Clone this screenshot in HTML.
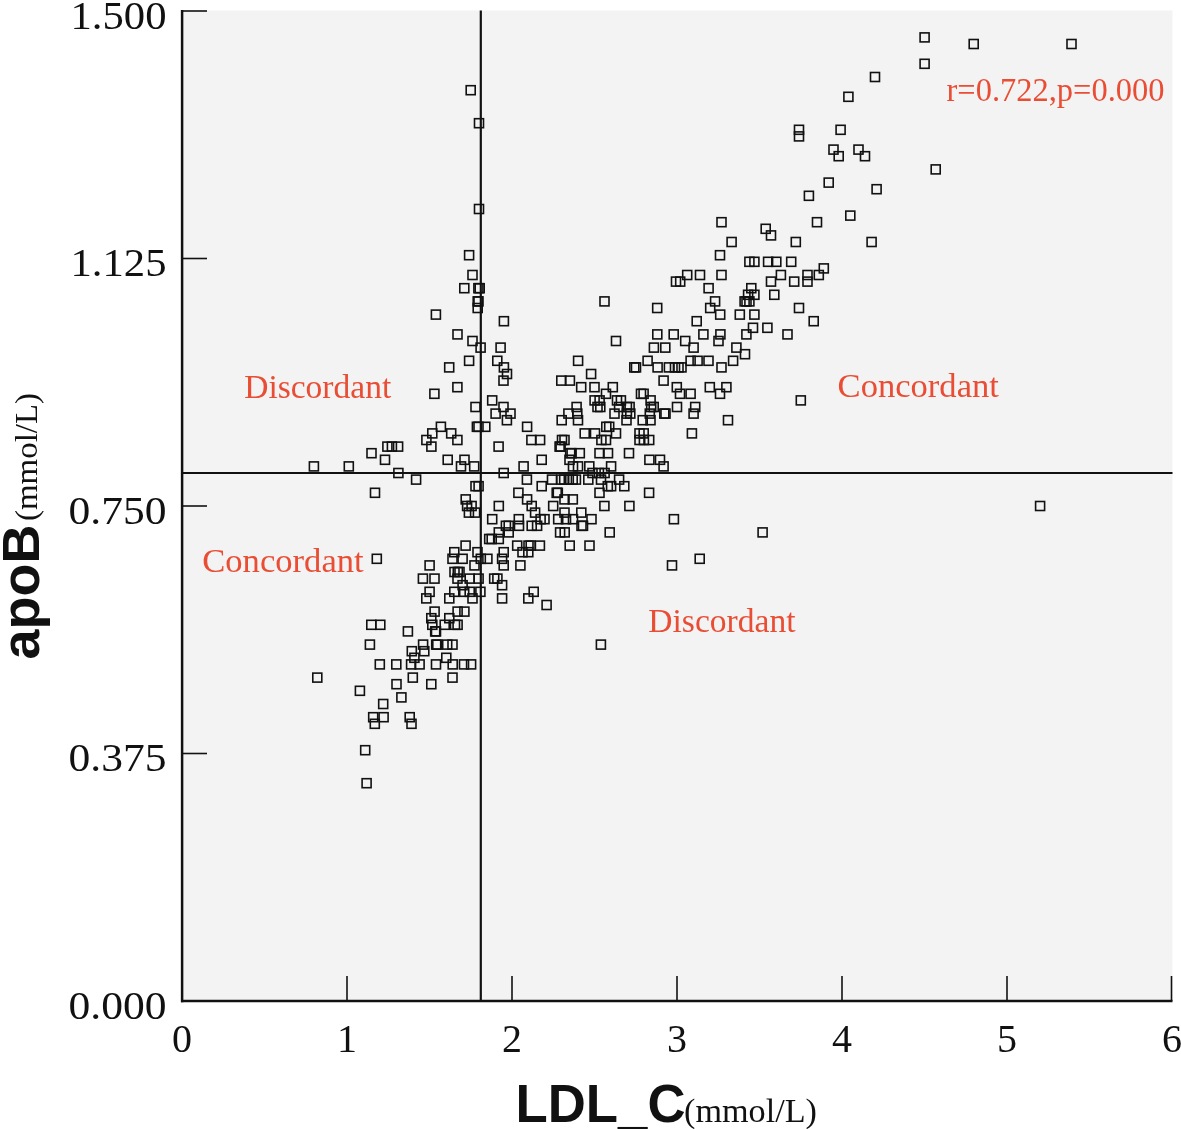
<!DOCTYPE html>
<html lang="en"><head><meta charset="utf-8"><title>apoB vs LDL_C scatter</title>
<style>html,body{margin:0;padding:0;background:#fff}svg{display:block}.tk{font-family:"Liberation Serif","Times New Roman",serif;font-size:40px;fill:#111}.rd{font-family:"Liberation Serif","Times New Roman",serif;font-size:33px;fill:#e94e35}.bt{font-family:"Liberation Sans",Arial,sans-serif;font-weight:bold;fill:#111}.un{font-family:"Liberation Serif","Times New Roman",serif;fill:#111}.sq rect{fill:none;stroke:#111;stroke-width:1.6}</style></head><body>
<svg width="1181" height="1129" viewBox="0 0 1181 1129">
<rect x="0" y="0" width="1181" height="1129" fill="#fff"/>
<rect x="182" y="10.5" width="990.5" height="990.5" fill="#f4f3f3"/>
<g stroke="#111" fill="none">
<line x1="182.1" y1="10" x2="182.1" y2="1002.3" stroke-width="2.5"/>
<line x1="181" y1="1001" x2="1172.5" y2="1001" stroke-width="2.3"/>
<line x1="480.8" y1="10.5" x2="480.8" y2="1001" stroke-width="2.2"/>
<line x1="182" y1="473" x2="1172.5" y2="473" stroke-width="2.2"/>
<line x1="182" y1="11.0" x2="207" y2="11.0" stroke-width="1.6"/>
<line x1="182" y1="258.5" x2="207" y2="258.5" stroke-width="1.6"/>
<line x1="182" y1="506.0" x2="207" y2="506.0" stroke-width="1.6"/>
<line x1="182" y1="753.5" x2="207" y2="753.5" stroke-width="1.6"/>
<line x1="347.0" y1="976" x2="347.0" y2="1001" stroke-width="1.6"/>
<line x1="512.0" y1="976" x2="512.0" y2="1001" stroke-width="1.6"/>
<line x1="677.0" y1="976" x2="677.0" y2="1001" stroke-width="1.6"/>
<line x1="842.0" y1="976" x2="842.0" y2="1001" stroke-width="1.6"/>
<line x1="1007.0" y1="976" x2="1007.0" y2="1001" stroke-width="1.6"/>
<line x1="1171.5" y1="976" x2="1171.5" y2="1001" stroke-width="1.6"/>
</g>
<text class="tk" x="166.5" y="28.5" text-anchor="end" textLength="96" lengthAdjust="spacingAndGlyphs">1.500</text>
<text class="tk" x="166.5" y="276.0" text-anchor="end" textLength="96" lengthAdjust="spacingAndGlyphs">1.125</text>
<text class="tk" x="166.5" y="523.5" text-anchor="end" textLength="98" lengthAdjust="spacingAndGlyphs">0.750</text>
<text class="tk" x="166.5" y="771.0" text-anchor="end" textLength="98" lengthAdjust="spacingAndGlyphs">0.375</text>
<text class="tk" x="166.5" y="1018.5" text-anchor="end" textLength="98" lengthAdjust="spacingAndGlyphs">0.000</text>
<text class="tk" x="182.0" y="1052" text-anchor="middle">0</text>
<text class="tk" x="347.0" y="1052" text-anchor="middle">1</text>
<text class="tk" x="512.0" y="1052" text-anchor="middle">2</text>
<text class="tk" x="677.0" y="1052" text-anchor="middle">3</text>
<text class="tk" x="842.0" y="1052" text-anchor="middle">4</text>
<text class="tk" x="1007.0" y="1052" text-anchor="middle">5</text>
<text class="tk" x="1172.0" y="1052" text-anchor="middle">6</text>
<text class="bt" x="515.5" y="1121.5" font-size="53" textLength="170" lengthAdjust="spacingAndGlyphs">LDL_C</text>
<text class="un" x="684" y="1122" font-size="33" textLength="133" lengthAdjust="spacingAndGlyphs">(mmol/L)</text>
<g transform="translate(38.5,659.5) rotate(-90)">
<text class="bt" x="0" y="0" font-size="51" textLength="135" lengthAdjust="spacingAndGlyphs">apoB</text>
<text class="un" x="138.5" y="-1.5" font-size="32" textLength="128" lengthAdjust="spacingAndGlyphs">(mmol/L)</text>
</g>
<text class="rd" x="946.5" y="101" font-size="30" textLength="218" lengthAdjust="spacingAndGlyphs">r=0.722,p=0.000</text>
<text class="rd" x="244.2" y="397.5" textLength="147" lengthAdjust="spacingAndGlyphs">Discordant</text>
<text class="rd" x="837.6" y="397.2" textLength="161.3" lengthAdjust="spacingAndGlyphs">Concordant</text>
<text class="rd" x="202.2" y="572" textLength="161.5" lengthAdjust="spacingAndGlyphs">Concordant</text>
<text class="rd" x="648.3" y="631.5" textLength="147.3" lengthAdjust="spacingAndGlyphs">Discordant</text>
<g class="sq">
<rect x="920.1" y="32.9" width="9" height="9"/>
<rect x="969.2" y="39.5" width="9" height="9"/>
<rect x="1067.0" y="39.5" width="9" height="9"/>
<rect x="920.1" y="59.3" width="9" height="9"/>
<rect x="870.5" y="72.5" width="9" height="9"/>
<rect x="466.2" y="85.7" width="9" height="9"/>
<rect x="843.9" y="92.3" width="9" height="9"/>
<rect x="474.5" y="118.7" width="9" height="9"/>
<rect x="794.5" y="125.3" width="9" height="9"/>
<rect x="836.1" y="125.3" width="9" height="9"/>
<rect x="794.5" y="131.9" width="9" height="9"/>
<rect x="829.0" y="145.1" width="9" height="9"/>
<rect x="854.0" y="145.1" width="9" height="9"/>
<rect x="834.2" y="151.7" width="9" height="9"/>
<rect x="860.5" y="151.7" width="9" height="9"/>
<rect x="931.2" y="164.9" width="9" height="9"/>
<rect x="824.2" y="178.1" width="9" height="9"/>
<rect x="872.1" y="184.7" width="9" height="9"/>
<rect x="804.4" y="191.3" width="9" height="9"/>
<rect x="474.5" y="204.5" width="9" height="9"/>
<rect x="845.8" y="211.1" width="9" height="9"/>
<rect x="717.0" y="217.7" width="9" height="9"/>
<rect x="812.5" y="217.7" width="9" height="9"/>
<rect x="761.2" y="224.3" width="9" height="9"/>
<rect x="766.5" y="230.9" width="9" height="9"/>
<rect x="727.1" y="237.5" width="9" height="9"/>
<rect x="791.3" y="237.5" width="9" height="9"/>
<rect x="867.1" y="237.5" width="9" height="9"/>
<rect x="464.6" y="250.7" width="9" height="9"/>
<rect x="715.5" y="250.7" width="9" height="9"/>
<rect x="744.9" y="257.3" width="9" height="9"/>
<rect x="749.9" y="257.3" width="9" height="9"/>
<rect x="763.6" y="257.3" width="9" height="9"/>
<rect x="771.8" y="257.3" width="9" height="9"/>
<rect x="786.7" y="257.3" width="9" height="9"/>
<rect x="819.3" y="263.9" width="9" height="9"/>
<rect x="468.0" y="270.5" width="9" height="9"/>
<rect x="682.7" y="270.5" width="9" height="9"/>
<rect x="695.5" y="270.5" width="9" height="9"/>
<rect x="717.0" y="270.5" width="9" height="9"/>
<rect x="776.4" y="270.5" width="9" height="9"/>
<rect x="803.0" y="270.5" width="9" height="9"/>
<rect x="814.3" y="270.5" width="9" height="9"/>
<rect x="671.5" y="277.1" width="9" height="9"/>
<rect x="675.7" y="277.1" width="9" height="9"/>
<rect x="766.5" y="277.1" width="9" height="9"/>
<rect x="789.7" y="277.1" width="9" height="9"/>
<rect x="803.0" y="277.1" width="9" height="9"/>
<rect x="459.8" y="283.7" width="9" height="9"/>
<rect x="473.9" y="283.7" width="9" height="9"/>
<rect x="475.2" y="283.7" width="9" height="9"/>
<rect x="704.1" y="283.7" width="9" height="9"/>
<rect x="746.8" y="283.7" width="9" height="9"/>
<rect x="743.6" y="290.3" width="9" height="9"/>
<rect x="749.9" y="290.3" width="9" height="9"/>
<rect x="769.8" y="290.3" width="9" height="9"/>
<rect x="473.2" y="296.9" width="9" height="9"/>
<rect x="474.0" y="296.9" width="9" height="9"/>
<rect x="600.0" y="296.9" width="9" height="9"/>
<rect x="710.6" y="296.9" width="9" height="9"/>
<rect x="740.1" y="296.9" width="9" height="9"/>
<rect x="742.0" y="296.9" width="9" height="9"/>
<rect x="744.9" y="296.9" width="9" height="9"/>
<rect x="473.2" y="303.5" width="9" height="9"/>
<rect x="652.7" y="303.5" width="9" height="9"/>
<rect x="705.7" y="303.5" width="9" height="9"/>
<rect x="794.5" y="303.5" width="9" height="9"/>
<rect x="431.4" y="310.1" width="9" height="9"/>
<rect x="715.7" y="310.1" width="9" height="9"/>
<rect x="735.3" y="310.1" width="9" height="9"/>
<rect x="749.9" y="310.1" width="9" height="9"/>
<rect x="499.4" y="316.7" width="9" height="9"/>
<rect x="692.2" y="316.7" width="9" height="9"/>
<rect x="809.2" y="316.7" width="9" height="9"/>
<rect x="748.5" y="323.3" width="9" height="9"/>
<rect x="762.9" y="323.3" width="9" height="9"/>
<rect x="453.0" y="329.9" width="9" height="9"/>
<rect x="652.8" y="329.9" width="9" height="9"/>
<rect x="669.2" y="329.9" width="9" height="9"/>
<rect x="698.9" y="329.9" width="9" height="9"/>
<rect x="715.9" y="329.9" width="9" height="9"/>
<rect x="741.9" y="329.9" width="9" height="9"/>
<rect x="783.0" y="329.9" width="9" height="9"/>
<rect x="468.0" y="336.5" width="9" height="9"/>
<rect x="611.5" y="336.5" width="9" height="9"/>
<rect x="680.7" y="336.5" width="9" height="9"/>
<rect x="714.0" y="336.5" width="9" height="9"/>
<rect x="476.1" y="343.1" width="9" height="9"/>
<rect x="496.1" y="343.1" width="9" height="9"/>
<rect x="649.4" y="343.1" width="9" height="9"/>
<rect x="660.8" y="343.1" width="9" height="9"/>
<rect x="689.1" y="343.1" width="9" height="9"/>
<rect x="731.9" y="343.1" width="9" height="9"/>
<rect x="740.5" y="349.7" width="9" height="9"/>
<rect x="464.6" y="356.3" width="9" height="9"/>
<rect x="492.8" y="356.3" width="9" height="9"/>
<rect x="573.6" y="356.3" width="9" height="9"/>
<rect x="643.1" y="356.3" width="9" height="9"/>
<rect x="686.1" y="356.3" width="9" height="9"/>
<rect x="693.1" y="356.3" width="9" height="9"/>
<rect x="704.0" y="356.3" width="9" height="9"/>
<rect x="728.6" y="356.3" width="9" height="9"/>
<rect x="444.7" y="362.9" width="9" height="9"/>
<rect x="499.4" y="362.9" width="9" height="9"/>
<rect x="629.8" y="362.9" width="9" height="9"/>
<rect x="631.5" y="362.9" width="9" height="9"/>
<rect x="653.1" y="362.9" width="9" height="9"/>
<rect x="664.4" y="362.9" width="9" height="9"/>
<rect x="670.5" y="362.9" width="9" height="9"/>
<rect x="674.0" y="362.9" width="9" height="9"/>
<rect x="677.0" y="362.9" width="9" height="9"/>
<rect x="717.0" y="362.9" width="9" height="9"/>
<rect x="502.5" y="369.5" width="9" height="9"/>
<rect x="586.6" y="369.5" width="9" height="9"/>
<rect x="499.0" y="376.1" width="9" height="9"/>
<rect x="556.8" y="376.1" width="9" height="9"/>
<rect x="565.4" y="376.1" width="9" height="9"/>
<rect x="659.1" y="376.1" width="9" height="9"/>
<rect x="452.9" y="382.7" width="9" height="9"/>
<rect x="576.7" y="382.7" width="9" height="9"/>
<rect x="590.0" y="382.7" width="9" height="9"/>
<rect x="608.3" y="382.7" width="9" height="9"/>
<rect x="672.3" y="382.7" width="9" height="9"/>
<rect x="705.3" y="382.7" width="9" height="9"/>
<rect x="721.9" y="382.7" width="9" height="9"/>
<rect x="429.9" y="389.3" width="9" height="9"/>
<rect x="601.5" y="389.3" width="9" height="9"/>
<rect x="636.5" y="389.3" width="9" height="9"/>
<rect x="639.1" y="389.3" width="9" height="9"/>
<rect x="675.5" y="389.3" width="9" height="9"/>
<rect x="686.1" y="389.3" width="9" height="9"/>
<rect x="715.5" y="389.3" width="9" height="9"/>
<rect x="487.7" y="395.9" width="9" height="9"/>
<rect x="590.1" y="395.9" width="9" height="9"/>
<rect x="595.1" y="395.9" width="9" height="9"/>
<rect x="612.5" y="395.9" width="9" height="9"/>
<rect x="616.4" y="395.9" width="9" height="9"/>
<rect x="646.1" y="395.9" width="9" height="9"/>
<rect x="796.3" y="395.9" width="9" height="9"/>
<rect x="471.0" y="402.5" width="9" height="9"/>
<rect x="499.0" y="402.5" width="9" height="9"/>
<rect x="572.1" y="402.5" width="9" height="9"/>
<rect x="593.0" y="402.5" width="9" height="9"/>
<rect x="595.8" y="402.5" width="9" height="9"/>
<rect x="614.6" y="402.5" width="9" height="9"/>
<rect x="622.4" y="402.5" width="9" height="9"/>
<rect x="625.1" y="402.5" width="9" height="9"/>
<rect x="646.7" y="402.5" width="9" height="9"/>
<rect x="649.2" y="402.5" width="9" height="9"/>
<rect x="672.5" y="402.5" width="9" height="9"/>
<rect x="690.7" y="402.5" width="9" height="9"/>
<rect x="491.1" y="409.1" width="9" height="9"/>
<rect x="506.0" y="409.1" width="9" height="9"/>
<rect x="563.9" y="409.1" width="9" height="9"/>
<rect x="572.8" y="409.1" width="9" height="9"/>
<rect x="610.0" y="409.1" width="9" height="9"/>
<rect x="622.4" y="409.1" width="9" height="9"/>
<rect x="625.8" y="409.1" width="9" height="9"/>
<rect x="645.3" y="409.1" width="9" height="9"/>
<rect x="659.8" y="409.1" width="9" height="9"/>
<rect x="661.0" y="409.1" width="9" height="9"/>
<rect x="689.1" y="409.1" width="9" height="9"/>
<rect x="502.4" y="415.7" width="9" height="9"/>
<rect x="557.2" y="415.7" width="9" height="9"/>
<rect x="573.5" y="415.7" width="9" height="9"/>
<rect x="622.0" y="415.7" width="9" height="9"/>
<rect x="638.2" y="415.7" width="9" height="9"/>
<rect x="646.0" y="415.7" width="9" height="9"/>
<rect x="723.5" y="415.7" width="9" height="9"/>
<rect x="436.4" y="422.3" width="9" height="9"/>
<rect x="472.4" y="422.3" width="9" height="9"/>
<rect x="474.0" y="422.3" width="9" height="9"/>
<rect x="480.8" y="422.3" width="9" height="9"/>
<rect x="522.6" y="422.3" width="9" height="9"/>
<rect x="601.8" y="422.3" width="9" height="9"/>
<rect x="604.7" y="422.3" width="9" height="9"/>
<rect x="427.8" y="428.9" width="9" height="9"/>
<rect x="446.7" y="428.9" width="9" height="9"/>
<rect x="580.2" y="428.9" width="9" height="9"/>
<rect x="590.5" y="428.9" width="9" height="9"/>
<rect x="611.5" y="428.9" width="9" height="9"/>
<rect x="635.0" y="428.9" width="9" height="9"/>
<rect x="639.2" y="428.9" width="9" height="9"/>
<rect x="687.4" y="428.9" width="9" height="9"/>
<rect x="421.9" y="435.5" width="9" height="9"/>
<rect x="452.9" y="435.5" width="9" height="9"/>
<rect x="526.9" y="435.5" width="9" height="9"/>
<rect x="535.6" y="435.5" width="9" height="9"/>
<rect x="557.5" y="435.5" width="9" height="9"/>
<rect x="560.0" y="435.5" width="9" height="9"/>
<rect x="596.9" y="435.5" width="9" height="9"/>
<rect x="601.5" y="435.5" width="9" height="9"/>
<rect x="635.0" y="435.5" width="9" height="9"/>
<rect x="639.4" y="435.5" width="9" height="9"/>
<rect x="644.7" y="435.5" width="9" height="9"/>
<rect x="382.9" y="442.1" width="9" height="9"/>
<rect x="387.4" y="442.1" width="9" height="9"/>
<rect x="393.6" y="442.1" width="9" height="9"/>
<rect x="426.9" y="442.1" width="9" height="9"/>
<rect x="494.1" y="442.1" width="9" height="9"/>
<rect x="555.1" y="442.1" width="9" height="9"/>
<rect x="556.1" y="442.1" width="9" height="9"/>
<rect x="367.0" y="448.7" width="9" height="9"/>
<rect x="565.7" y="448.7" width="9" height="9"/>
<rect x="567.1" y="448.7" width="9" height="9"/>
<rect x="575.3" y="448.7" width="9" height="9"/>
<rect x="595.0" y="448.7" width="9" height="9"/>
<rect x="603.5" y="448.7" width="9" height="9"/>
<rect x="624.5" y="448.7" width="9" height="9"/>
<rect x="380.5" y="455.3" width="9" height="9"/>
<rect x="443.2" y="455.3" width="9" height="9"/>
<rect x="460.0" y="455.3" width="9" height="9"/>
<rect x="537.2" y="455.3" width="9" height="9"/>
<rect x="565.0" y="455.3" width="9" height="9"/>
<rect x="644.9" y="455.3" width="9" height="9"/>
<rect x="655.5" y="455.3" width="9" height="9"/>
<rect x="309.4" y="461.9" width="9" height="9"/>
<rect x="344.3" y="461.9" width="9" height="9"/>
<rect x="456.5" y="461.9" width="9" height="9"/>
<rect x="469.7" y="461.9" width="9" height="9"/>
<rect x="519.1" y="461.9" width="9" height="9"/>
<rect x="568.5" y="461.9" width="9" height="9"/>
<rect x="573.5" y="461.9" width="9" height="9"/>
<rect x="584.8" y="461.9" width="9" height="9"/>
<rect x="606.6" y="461.9" width="9" height="9"/>
<rect x="659.1" y="461.9" width="9" height="9"/>
<rect x="393.9" y="468.5" width="9" height="9"/>
<rect x="499.2" y="468.5" width="9" height="9"/>
<rect x="588.0" y="468.5" width="9" height="9"/>
<rect x="594.4" y="468.5" width="9" height="9"/>
<rect x="600.1" y="468.5" width="9" height="9"/>
<rect x="411.6" y="475.1" width="9" height="9"/>
<rect x="522.4" y="475.1" width="9" height="9"/>
<rect x="547.5" y="475.1" width="9" height="9"/>
<rect x="556.8" y="475.1" width="9" height="9"/>
<rect x="559.7" y="475.1" width="9" height="9"/>
<rect x="564.3" y="475.1" width="9" height="9"/>
<rect x="568.2" y="475.1" width="9" height="9"/>
<rect x="571.4" y="475.1" width="9" height="9"/>
<rect x="583.8" y="475.1" width="9" height="9"/>
<rect x="596.5" y="475.1" width="9" height="9"/>
<rect x="614.6" y="475.1" width="9" height="9"/>
<rect x="471.0" y="481.7" width="9" height="9"/>
<rect x="474.1" y="481.7" width="9" height="9"/>
<rect x="537.2" y="481.7" width="9" height="9"/>
<rect x="603.3" y="481.7" width="9" height="9"/>
<rect x="606.6" y="481.7" width="9" height="9"/>
<rect x="619.8" y="481.7" width="9" height="9"/>
<rect x="370.5" y="488.3" width="9" height="9"/>
<rect x="513.9" y="488.3" width="9" height="9"/>
<rect x="552.2" y="488.3" width="9" height="9"/>
<rect x="553.3" y="488.3" width="9" height="9"/>
<rect x="595.0" y="488.3" width="9" height="9"/>
<rect x="644.6" y="488.3" width="9" height="9"/>
<rect x="461.2" y="494.9" width="9" height="9"/>
<rect x="522.6" y="494.9" width="9" height="9"/>
<rect x="560.0" y="494.9" width="9" height="9"/>
<rect x="568.3" y="494.9" width="9" height="9"/>
<rect x="462.6" y="501.5" width="9" height="9"/>
<rect x="467.1" y="501.5" width="9" height="9"/>
<rect x="494.3" y="501.5" width="9" height="9"/>
<rect x="527.2" y="501.5" width="9" height="9"/>
<rect x="548.7" y="501.5" width="9" height="9"/>
<rect x="599.9" y="501.5" width="9" height="9"/>
<rect x="624.9" y="501.5" width="9" height="9"/>
<rect x="1035.6" y="501.5" width="9" height="9"/>
<rect x="464.4" y="508.1" width="9" height="9"/>
<rect x="470.6" y="508.1" width="9" height="9"/>
<rect x="530.6" y="508.1" width="9" height="9"/>
<rect x="560.0" y="508.1" width="9" height="9"/>
<rect x="576.8" y="508.1" width="9" height="9"/>
<rect x="487.7" y="514.7" width="9" height="9"/>
<rect x="514.3" y="514.7" width="9" height="9"/>
<rect x="536.1" y="514.7" width="9" height="9"/>
<rect x="540.0" y="514.7" width="9" height="9"/>
<rect x="553.7" y="514.7" width="9" height="9"/>
<rect x="561.5" y="514.7" width="9" height="9"/>
<rect x="568.5" y="514.7" width="9" height="9"/>
<rect x="587.0" y="514.7" width="9" height="9"/>
<rect x="669.4" y="514.7" width="9" height="9"/>
<rect x="501.4" y="521.3" width="9" height="9"/>
<rect x="504.2" y="521.3" width="9" height="9"/>
<rect x="514.5" y="521.3" width="9" height="9"/>
<rect x="527.2" y="521.3" width="9" height="9"/>
<rect x="532.6" y="521.3" width="9" height="9"/>
<rect x="577.0" y="521.3" width="9" height="9"/>
<rect x="578.5" y="521.3" width="9" height="9"/>
<rect x="494.3" y="527.9" width="9" height="9"/>
<rect x="504.2" y="527.9" width="9" height="9"/>
<rect x="555.6" y="527.9" width="9" height="9"/>
<rect x="560.2" y="527.9" width="9" height="9"/>
<rect x="605.2" y="527.9" width="9" height="9"/>
<rect x="758.1" y="527.9" width="9" height="9"/>
<rect x="484.7" y="534.5" width="9" height="9"/>
<rect x="487.2" y="534.5" width="9" height="9"/>
<rect x="494.3" y="534.5" width="9" height="9"/>
<rect x="461.1" y="541.1" width="9" height="9"/>
<rect x="512.7" y="541.1" width="9" height="9"/>
<rect x="524.0" y="541.1" width="9" height="9"/>
<rect x="526.2" y="541.1" width="9" height="9"/>
<rect x="535.4" y="541.1" width="9" height="9"/>
<rect x="565.2" y="541.1" width="9" height="9"/>
<rect x="585.0" y="541.1" width="9" height="9"/>
<rect x="449.8" y="547.7" width="9" height="9"/>
<rect x="473.0" y="547.7" width="9" height="9"/>
<rect x="499.2" y="547.7" width="9" height="9"/>
<rect x="518.0" y="547.7" width="9" height="9"/>
<rect x="523.8" y="547.7" width="9" height="9"/>
<rect x="372.3" y="554.3" width="9" height="9"/>
<rect x="448.0" y="554.3" width="9" height="9"/>
<rect x="458.1" y="554.3" width="9" height="9"/>
<rect x="476.3" y="554.3" width="9" height="9"/>
<rect x="482.9" y="554.3" width="9" height="9"/>
<rect x="497.6" y="554.3" width="9" height="9"/>
<rect x="695.2" y="554.3" width="9" height="9"/>
<rect x="425.1" y="560.9" width="9" height="9"/>
<rect x="470.0" y="560.9" width="9" height="9"/>
<rect x="499.2" y="560.9" width="9" height="9"/>
<rect x="515.9" y="560.9" width="9" height="9"/>
<rect x="667.5" y="560.9" width="9" height="9"/>
<rect x="450.0" y="567.5" width="9" height="9"/>
<rect x="453.3" y="567.5" width="9" height="9"/>
<rect x="455.0" y="567.5" width="9" height="9"/>
<rect x="418.4" y="574.1" width="9" height="9"/>
<rect x="430.0" y="574.1" width="9" height="9"/>
<rect x="453.0" y="574.1" width="9" height="9"/>
<rect x="465.2" y="574.1" width="9" height="9"/>
<rect x="474.1" y="574.1" width="9" height="9"/>
<rect x="489.7" y="574.1" width="9" height="9"/>
<rect x="492.9" y="574.1" width="9" height="9"/>
<rect x="458.1" y="580.7" width="9" height="9"/>
<rect x="497.6" y="580.7" width="9" height="9"/>
<rect x="425.1" y="587.3" width="9" height="9"/>
<rect x="449.8" y="587.3" width="9" height="9"/>
<rect x="459.7" y="587.3" width="9" height="9"/>
<rect x="465.2" y="587.3" width="9" height="9"/>
<rect x="475.9" y="587.3" width="9" height="9"/>
<rect x="529.2" y="587.3" width="9" height="9"/>
<rect x="421.8" y="593.9" width="9" height="9"/>
<rect x="444.8" y="593.9" width="9" height="9"/>
<rect x="468.0" y="593.9" width="9" height="9"/>
<rect x="497.6" y="593.9" width="9" height="9"/>
<rect x="523.8" y="593.9" width="9" height="9"/>
<rect x="542.1" y="600.5" width="9" height="9"/>
<rect x="430.1" y="607.1" width="9" height="9"/>
<rect x="453.1" y="607.1" width="9" height="9"/>
<rect x="459.9" y="607.1" width="9" height="9"/>
<rect x="426.8" y="613.7" width="9" height="9"/>
<rect x="444.8" y="613.7" width="9" height="9"/>
<rect x="366.8" y="620.3" width="9" height="9"/>
<rect x="375.8" y="620.3" width="9" height="9"/>
<rect x="427.8" y="620.3" width="9" height="9"/>
<rect x="440.2" y="620.3" width="9" height="9"/>
<rect x="450.5" y="620.3" width="9" height="9"/>
<rect x="453.1" y="620.3" width="9" height="9"/>
<rect x="403.4" y="626.9" width="9" height="9"/>
<rect x="430.7" y="626.9" width="9" height="9"/>
<rect x="431.5" y="626.9" width="9" height="9"/>
<rect x="365.4" y="640.1" width="9" height="9"/>
<rect x="418.6" y="640.1" width="9" height="9"/>
<rect x="431.7" y="640.1" width="9" height="9"/>
<rect x="432.8" y="640.1" width="9" height="9"/>
<rect x="442.7" y="640.1" width="9" height="9"/>
<rect x="448.0" y="640.1" width="9" height="9"/>
<rect x="596.4" y="640.1" width="9" height="9"/>
<rect x="407.3" y="646.7" width="9" height="9"/>
<rect x="419.8" y="646.7" width="9" height="9"/>
<rect x="409.9" y="653.3" width="9" height="9"/>
<rect x="441.8" y="653.3" width="9" height="9"/>
<rect x="375.3" y="659.9" width="9" height="9"/>
<rect x="391.8" y="659.9" width="9" height="9"/>
<rect x="406.6" y="659.9" width="9" height="9"/>
<rect x="415.1" y="659.9" width="9" height="9"/>
<rect x="431.5" y="659.9" width="9" height="9"/>
<rect x="448.2" y="659.9" width="9" height="9"/>
<rect x="459.5" y="659.9" width="9" height="9"/>
<rect x="466.6" y="659.9" width="9" height="9"/>
<rect x="312.8" y="673.1" width="9" height="9"/>
<rect x="408.3" y="673.1" width="9" height="9"/>
<rect x="448.0" y="673.1" width="9" height="9"/>
<rect x="392.0" y="679.7" width="9" height="9"/>
<rect x="426.8" y="679.7" width="9" height="9"/>
<rect x="355.4" y="686.3" width="9" height="9"/>
<rect x="396.9" y="692.9" width="9" height="9"/>
<rect x="378.7" y="699.5" width="9" height="9"/>
<rect x="368.7" y="712.7" width="9" height="9"/>
<rect x="379.1" y="712.7" width="9" height="9"/>
<rect x="405.2" y="712.7" width="9" height="9"/>
<rect x="370.3" y="719.3" width="9" height="9"/>
<rect x="407.0" y="719.3" width="9" height="9"/>
<rect x="360.7" y="745.7" width="9" height="9"/>
<rect x="362.1" y="778.7" width="9" height="9"/>
</g>
</svg></body></html>
